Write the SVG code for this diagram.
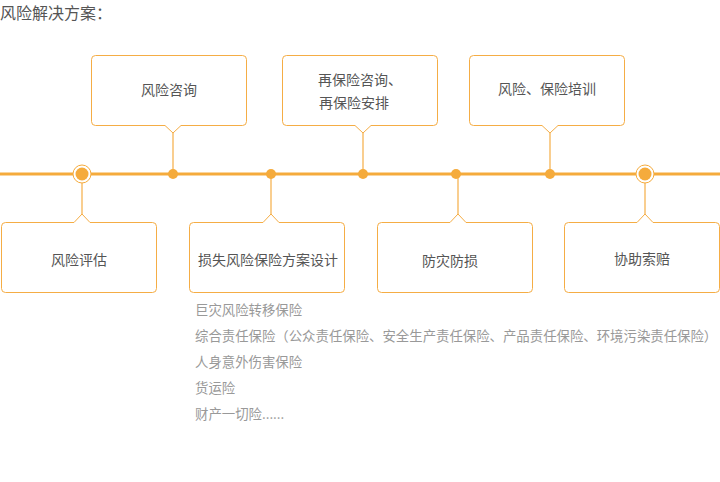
<svg xmlns="http://www.w3.org/2000/svg" width="720" height="482" viewBox="0 0 720 482">
<style>
.box{fill:#fff;stroke:#f5ad45;stroke-width:1}
.stem{stroke:#f5ad45;stroke-width:1.2;fill:none}
.lbl{font-family:"Noto Sans CJK SC","Microsoft YaHei",sans-serif;font-size:14px;fill:#555;text-anchor:middle}
.title{font-family:"Noto Sans CJK SC",sans-serif;font-size:16px;fill:#555}
.list{font-family:"Noto Sans CJK SC",sans-serif;font-size:13.4px;fill:#999}
.dot{fill:#f5ab3c}
.ring{fill:#fff;stroke:#f5ab3c;stroke-width:1}
</style>
<rect width="720" height="482" fill="#fff"/>
<text class="title" x="0" y="0" dominant-baseline="text-before-edge">风险解决方案：</text>
<g id="connectors">
<line x1="0" y1="174" x2="720" y2="174" stroke="#f5ab3c" stroke-width="3"/>
<line class="stem" x1="173" y1="133" x2="173" y2="174"/>
<line class="stem" x1="363" y1="133" x2="363" y2="174"/>
<line class="stem" x1="550" y1="133" x2="550" y2="174"/>
<line class="stem" x1="82" y1="174" x2="82" y2="214"/>
<line class="stem" x1="271" y1="174" x2="271" y2="214"/>
<line class="stem" x1="458" y1="174" x2="458" y2="214"/>
<line class="stem" x1="645" y1="174" x2="645" y2="214"/>
<circle class="ring" cx="82" cy="174" r="9"/>
<circle class="dot" cx="82" cy="174" r="6.5"/>
<circle class="ring" cx="645" cy="174" r="9"/>
<circle class="dot" cx="645" cy="174" r="6.5"/>
<circle class="dot" cx="173" cy="174" r="5"/>
<circle class="dot" cx="271" cy="174" r="5"/>
<circle class="dot" cx="363" cy="174" r="5"/>
<circle class="dot" cx="456" cy="174" r="5"/>
<circle class="dot" cx="550" cy="174" r="5"/>
</g>
<g id="n1">
<path class="box" d="M95.5 55.5 H242.5 Q246.5 55.5 246.5 59.5 V121.5 Q246.5 125.5 242.5 125.5 H181 L173 133 L165 125.5 H95.5 Q91.5 125.5 91.5 121.5 V59.5 Q91.5 55.5 95.5 55.5 Z"/>
<text class="lbl" x="169" y="95">风险咨询</text>
</g>
<g id="n2">
<path class="box" d="M286.5 55.5 H433.5 Q437.5 55.5 437.5 59.5 V121.5 Q437.5 125.5 433.5 125.5 H371 L363 133 L355 125.5 H286.5 Q282.5 125.5 282.5 121.5 V59.5 Q282.5 55.5 286.5 55.5 Z"/>
<text class="lbl" x="360" y="85">再保险咨询、</text>
<text class="lbl" x="354" y="108">再保险安排</text>
</g>
<g id="n3">
<path class="box" d="M473.5 55.5 H620.5 Q624.5 55.5 624.5 59.5 V121.5 Q624.5 125.5 620.5 125.5 H558 L550 133 L542 125.5 H473.5 Q469.5 125.5 469.5 121.5 V59.5 Q469.5 55.5 473.5 55.5 Z"/>
<text class="lbl" x="547" y="94">风险、保险培训</text>
</g>
<g id="n4">
<path class="box" d="M5.5 222.5 H74 L82 214 L90 222.5 H152.5 Q156.5 222.5 156.5 226.5 V288.5 Q156.5 292.5 152.5 292.5 H5.5 Q1.5 292.5 1.5 288.5 V226.5 Q1.5 222.5 5.5 222.5 Z"/>
<text class="lbl" x="79" y="265">风险评估</text>
</g>
<g id="n5">
<path class="box" d="M193.5 222.5 H263 L271 214 L279 222.5 H340.5 Q344.5 222.5 344.5 226.5 V288.5 Q344.5 292.5 340.5 292.5 H193.5 Q189.5 292.5 189.5 288.5 V226.5 Q189.5 222.5 193.5 222.5 Z"/>
<text class="lbl" x="268" y="265">损失风险保险方案设计</text>
</g>
<g id="n6">
<path class="box" d="M381.5 222.5 H450 L458 214 L466 222.5 H528.5 Q532.5 222.5 532.5 226.5 V288.5 Q532.5 292.5 528.5 292.5 H381.5 Q377.5 292.5 377.5 288.5 V226.5 Q377.5 222.5 381.5 222.5 Z"/>
<text class="lbl" x="450" y="266">防灾防损</text>
</g>
<g id="n7">
<path class="box" d="M568.5 222.5 H637 L645 214 L653 222.5 H715.5 Q719.5 222.5 719.5 226.5 V288.5 Q719.5 292.5 715.5 292.5 H568.5 Q564.5 292.5 564.5 288.5 V226.5 Q564.5 222.5 568.5 222.5 Z"/>
<text class="lbl" x="642" y="264">协助索赔</text>
</g>
<g id="list">
<text class="list" x="195" y="315">巨灾风险转移保险</text>
<text class="list" x="195" y="341">综合责任保险（公众责任保险、安全生产责任保险、产品责任保险、环境污染责任保险）</text>
<text class="list" x="195" y="367">人身意外伤害保险</text>
<text class="list" x="195" y="393">货运险</text>
<text class="list" x="195" y="419">财产一切险......</text>
</g>
</svg>
